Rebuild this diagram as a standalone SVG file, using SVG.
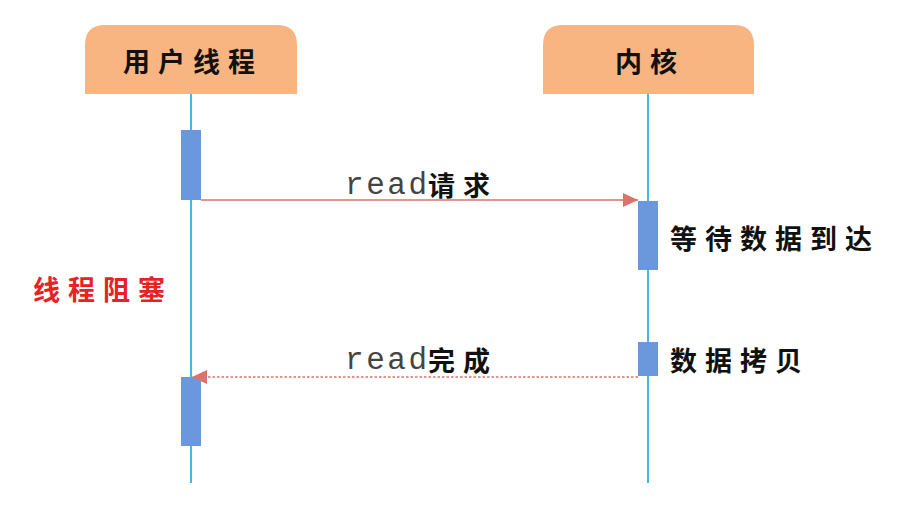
<svg xmlns="http://www.w3.org/2000/svg" width="919" height="509" viewBox="0 0 919 509">
<style>
.hdr{fill:#F8B582}
.life{stroke:#45B6E8;stroke-width:2;fill:none}
.act{fill:#6B97DD}
.msg{stroke:#D9736B;stroke-width:1.6;fill:none}
.dash{stroke-dasharray:2.5,2}
.cjk{font-family:"Noto Sans CJK SC","Noto Sans",sans-serif;font-weight:bold;font-size:27px;letter-spacing:8px;fill:#111}
.mono{font-family:"Liberation Mono","DejaVu Sans Mono",monospace;font-size:31px;fill:#444}
.red{fill:#E82222}
</style>
<defs>
<marker id="ah" markerWidth="15" markerHeight="14" refX="15" refY="7" orient="auto" markerUnits="userSpaceOnUse">
<path d="M0,0 L15,7 L0,14 Z" fill="#D9736B"/>
</marker>
</defs>
<rect width="919" height="509" fill="#fff"/>
<g id="user-thread">
<path class="hdr" d="M85,94 V45 Q85,25 105,25 H277 Q297,25 297,45 V94 Z"/>
<text class="cjk" x="123" y="60" dominant-baseline="central">用户线程</text>
</g>
<g id="kernel">
<path class="hdr" d="M543,94 V45 Q543,25 563,25 H734 Q754,25 754,45 V94 Z"/>
<text class="cjk" x="615" y="60" dominant-baseline="central">内核</text>
</g>
<g id="lifelines">
<line class="life" x1="191" y1="94" x2="191" y2="483"/>
<line class="life" x1="648" y1="94" x2="648" y2="483"/>
</g>
<g id="activations">
<rect class="act" x="181" y="130" width="20" height="70"/>
<rect class="act" x="638" y="201" width="20" height="69"/>
<rect class="act" x="638" y="342" width="20" height="34"/>
<rect class="act" x="181" y="377" width="20" height="69"/>
</g>
<g id="connectors">
<line class="msg" x1="201" y1="200" x2="638" y2="200" marker-end="url(#ah)"/>
<line class="msg dash" x1="638" y1="377" x2="192" y2="377" marker-end="url(#ah)"/>
</g>
<g id="labels">
<text class="mono" x="345" y="194" textLength="82">read</text>
<text class="cjk" x="428" y="184" dominant-baseline="central">请求</text>
<text class="mono" x="345" y="369" textLength="82">read</text>
<text class="cjk" x="428" y="359" dominant-baseline="central">完成</text>
<text class="cjk" x="670" y="237" dominant-baseline="central">等待数据到达</text>
<text class="cjk" x="670" y="359" dominant-baseline="central">数据拷贝</text>
<text class="cjk red" x="33" y="288" dominant-baseline="central">线程阻塞</text>
</g>
</svg>
